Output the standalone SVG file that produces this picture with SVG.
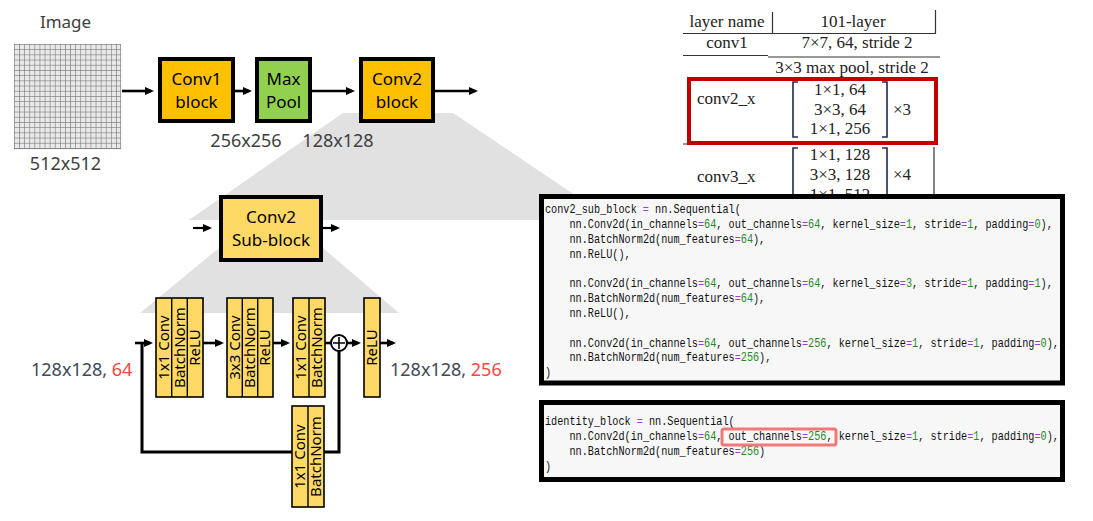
<svg xmlns="http://www.w3.org/2000/svg" width="1093" height="521" viewBox="0 0 1093 521">
<style>
.lbl{font-family:"Noto Sans","Liberation Sans",sans-serif;font-size:18px;fill:#404040}
.bt{font-family:"Noto Sans","Liberation Sans",sans-serif;font-size:17px;fill:#000;text-anchor:middle}
.rt{font-family:"Noto Sans","Liberation Sans",sans-serif;font-size:15px;fill:#000;text-anchor:middle}
.blk{stroke:#000;stroke-width:4}
.sb{fill:#FFD966;stroke:#000;stroke-width:1.6}
.dv{stroke:#000;stroke-width:1.4}
.ar{stroke:#000;stroke-width:2.6;fill:none}
.tb{font-family:"Liberation Serif","Times New Roman",serif;font-size:17px;fill:#222}
.tl{stroke:#333;stroke-width:1.2;fill:none}
.br{stroke:#1c2b4f;stroke-width:1.6;fill:none}
.code{font-family:"Liberation Mono","DejaVu Sans Mono",monospace;font-size:13px;fill:#111}
.p{fill:#a23bd6}
.n{fill:#1f8a1f}
.box{fill:#f7f7f7;stroke:#000;stroke-width:5}
.red{fill:#ff4444}
.gr{fill:#3f4959}
</style>
<defs>
<pattern id="grid" x="14" y="44" width="5.1" height="5.2" patternUnits="userSpaceOnUse">
<path d="M0.35 0V5.2M0 0.35H5.1" stroke="#7a7a7a" stroke-width="0.7"/>
</pattern>
<marker id="ah" viewBox="0 0 9 8" refX="6" refY="4" markerWidth="9" markerHeight="8" markerUnits="userSpaceOnUse" orient="auto">
<path d="M0 0L9 4L0 8z" fill="#000"/>
</marker>
</defs>
<rect width="1093" height="521" fill="#fff"/>

<g id="trapezoids">
<polygon points="343,113 453,113 612,220 189,220" fill="#e1e1e1"/>
<polygon points="219,248 323,248 399,313 140,313" fill="#e1e1e1"/>
</g>

<g id="image">
<text class="lbl" x="65.5" y="28" text-anchor="middle" style="font-size:17px">Image</text>
<rect x="14" y="44" width="107" height="105" fill="#e9e9e9"/>
<rect x="14" y="44" width="107" height="105" fill="url(#grid)"/>
<path d="M120.6 44V149M14 148.6H121" stroke="#7a7a7a" stroke-width="0.7"/>
<text class="lbl" x="65.5" y="170" text-anchor="middle">512x512</text>
</g>

<g id="connectors">
<line class="ar" x1="122" y1="91" x2="151" y2="91" marker-end="url(#ah)"/>
<line class="ar" x1="235" y1="91" x2="249" y2="91" marker-end="url(#ah)"/>
<line class="ar" x1="312" y1="91" x2="352" y2="91" marker-end="url(#ah)"/>
<line class="ar" x1="435" y1="91" x2="475" y2="91" marker-end="url(#ah)"/>
<line class="ar" x1="193" y1="228" x2="209" y2="228" marker-end="url(#ah)" style="stroke-width:2.2"/>
<line class="ar" x1="323" y1="228" x2="337" y2="228" marker-end="url(#ah)" style="stroke-width:2.2"/>
<line class="ar" x1="135" y1="343" x2="150" y2="343" marker-end="url(#ah)"/>
<path class="ar" d="M142 343V452H339V351" style="stroke-width:3"/>
<line class="ar" x1="203" y1="343" x2="221" y2="343" marker-end="url(#ah)"/>
<line class="ar" x1="273" y1="343" x2="287" y2="343" marker-end="url(#ah)"/>
<line class="ar" x1="325" y1="343" x2="331" y2="343"/>
<line class="ar" x1="347" y1="343" x2="358" y2="343" marker-end="url(#ah)"/>
<line class="ar" x1="380" y1="343" x2="393" y2="343" marker-end="url(#ah)"/>
</g>

<g id="conv1">
<rect class="blk" x="160" y="59" width="73" height="62" fill="#FFC000"/>
<text class="bt" x="196.5" y="85">Conv1</text>
<text class="bt" x="196.5" y="108">block</text>
</g>
<g id="maxpool">
<rect class="blk" x="257" y="59" width="53" height="62" fill="#92D050"/>
<text class="bt" x="283.5" y="85">Max</text>
<text class="bt" x="283.5" y="108">Pool</text>
</g>
<g id="conv2">
<rect class="blk" x="361" y="59" width="72" height="62" fill="#FFC000"/>
<text class="bt" x="397" y="85">Conv2</text>
<text class="bt" x="397" y="108">block</text>
</g>
<g id="sizes">
<text class="lbl" x="246" y="147" text-anchor="middle">256x256</text>
<text class="lbl" x="338" y="147" text-anchor="middle">128x128</text>
</g>

<g id="subblock">
<rect class="blk" x="221" y="197" width="100" height="63" fill="#FFD966"/>
<text class="bt" x="271" y="222.5">Conv2</text>
<text class="bt" x="271" y="245.5">Sub-block</text>
</g>

<g id="in-label">
<text class="lbl" x="31" y="375.5"><tspan class="gr">128x128, </tspan><tspan class="red">64</tspan></text>
</g>
<g id="out-label">
<text class="lbl" x="390" y="375.5"><tspan class="gr">128x128, </tspan><tspan class="red">256</tspan></text>
</g>

<g id="block1">
<rect class="sb" x="156" y="298" width="47" height="99"/>
<path class="dv" d="M171.7 298V397M187.3 298V397"/>
<text class="rt" transform="translate(164,347.5) rotate(-90)" y="5">1x1 Conv</text>
<text class="rt" transform="translate(179.5,347.5) rotate(-90)" y="5">BatchNorm</text>
<text class="rt" transform="translate(195,347.5) rotate(-90)" y="5">ReLU</text>
</g>
<g id="block2">
<rect class="sb" x="227" y="298" width="46" height="99"/>
<path class="dv" d="M242.3 298V397M257.7 298V397"/>
<text class="rt" transform="translate(234.7,347.5) rotate(-90)" y="5">3x3 Conv</text>
<text class="rt" transform="translate(250,347.5) rotate(-90)" y="5">BatchNorm</text>
<text class="rt" transform="translate(265.3,347.5) rotate(-90)" y="5">ReLU</text>
</g>
<g id="block3">
<rect class="sb" x="293" y="298" width="32" height="99"/>
<path class="dv" d="M309 298V397"/>
<text class="rt" transform="translate(301,347.5) rotate(-90)" y="5">1x1 Conv</text>
<text class="rt" transform="translate(317,347.5) rotate(-90)" y="5">BatchNorm</text>
</g>
<g id="add">
<circle cx="339" cy="343" r="8" fill="#fff" stroke="#000" stroke-width="2"/>
<path d="M339 337V349M333 343H345" stroke="#000" stroke-width="1.6"/>
</g>
<g id="relu">
<rect class="sb" x="364" y="298" width="16" height="99"/>
<text class="rt" transform="translate(372,347.5) rotate(-90)" y="5">ReLU</text>
</g>
<g id="shortcut">
<rect class="sb" x="292" y="406" width="32" height="101"/>
<path class="dv" d="M308 406V507"/>
<text class="rt" transform="translate(300,456.5) rotate(-90)" y="5">1x1 Conv</text>
<text class="rt" transform="translate(316,456.5) rotate(-90)" y="5">BatchNorm</text>
</g>

<g id="table">
<path class="tl" d="M683 33.5H936M772.5 12V33.5M935.5 10V33.5M683 55.5H768M768 57H940M683 144H936M934 147V200"/>
<text class="tb" x="727" y="27" text-anchor="middle">layer name</text>
<text class="tb" x="853" y="27" text-anchor="middle">101-layer</text>
<text class="tb" x="727" y="48" text-anchor="middle">conv1</text>
<text class="tb" x="857" y="48" text-anchor="middle">7×7, 64, stride 2</text>
<text class="tb" x="852" y="73" text-anchor="middle">3×3 max pool, stride 2</text>
<text class="tb" x="697" y="104">conv2_x</text>
<path class="br" d="M798 82H793V137H798M882 82H887V137H882"/>
<text class="tb" x="840" y="95" text-anchor="middle">1×1, 64</text>
<text class="tb" x="840" y="115" text-anchor="middle">3×3, 64</text>
<text class="tb" x="840" y="134" text-anchor="middle">1×1, 256</text>
<text class="tb" x="893" y="115">×3</text>
<text class="tb" x="697" y="182">conv3_x</text>
<path class="br" d="M798 148H793V200M882 148H887V200"/>
<text class="tb" x="840" y="160" text-anchor="middle">1×1, 128</text>
<text class="tb" x="840" y="180" text-anchor="middle">3×3, 128</text>
<text class="tb" x="840" y="200" text-anchor="middle">1×1, 512</text>
<text class="tb" x="893" y="180">×4</text>
<rect x="689" y="79" width="247" height="64" fill="none" stroke="#C00000" stroke-width="4"/>
</g>

<g id="code1">
<rect class="box" x="541.5" y="196.5" width="521" height="186.5"/>
<g transform="translate(545 0) scale(0.785 1)" class="code">
<text x="0" y="213.5">conv2_sub_block <tspan class="p">=</tspan> nn.Sequential(</text>
<text x="31.2" y="228.3">nn.Conv2d(in_channels<tspan class="p">=</tspan><tspan class="n">64</tspan>, out_channels<tspan class="p">=</tspan><tspan class="n">64</tspan>, kernel_size<tspan class="p">=</tspan><tspan class="n">1</tspan>, stride<tspan class="p">=</tspan><tspan class="n">1</tspan>, padding<tspan class="p">=</tspan><tspan class="n">0</tspan>),</text>
<text x="31.2" y="243.1">nn.BatchNorm2d(num_features<tspan class="p">=</tspan><tspan class="n">64</tspan>),</text>
<text x="31.2" y="257.9">nn.ReLU(),</text>
<text x="31.2" y="287.5">nn.Conv2d(in_channels<tspan class="p">=</tspan><tspan class="n">64</tspan>, out_channels<tspan class="p">=</tspan><tspan class="n">64</tspan>, kernel_size<tspan class="p">=</tspan><tspan class="n">3</tspan>, stride<tspan class="p">=</tspan><tspan class="n">1</tspan>, padding<tspan class="p">=</tspan><tspan class="n">1</tspan>),</text>
<text x="31.2" y="302.3">nn.BatchNorm2d(num_features<tspan class="p">=</tspan><tspan class="n">64</tspan>),</text>
<text x="31.2" y="317.1">nn.ReLU(),</text>
<text x="31.2" y="346.7">nn.Conv2d(in_channels<tspan class="p">=</tspan><tspan class="n">64</tspan>, out_channels<tspan class="p">=</tspan><tspan class="n">256</tspan>, kernel_size<tspan class="p">=</tspan><tspan class="n">1</tspan>, stride<tspan class="p">=</tspan><tspan class="n">1</tspan>, padding<tspan class="p">=</tspan><tspan class="n">0</tspan>),</text>
<text x="31.2" y="361.5">nn.BatchNorm2d(num_features<tspan class="p">=</tspan><tspan class="n">256</tspan>),</text>
<text x="0" y="376.3">)</text>
</g>
</g>

<g id="code2">
<rect class="box" x="541.5" y="402.5" width="521" height="77"/>
<g transform="translate(545 0) scale(0.785 1)" class="code">
<text x="0" y="425.5">identity_block <tspan class="p">=</tspan> nn.Sequential(</text>
<text x="31.2" y="440.3">nn.Conv2d(in_channels<tspan class="p">=</tspan><tspan class="n">64</tspan>, out_channels<tspan class="p">=</tspan><tspan class="n">256</tspan>, kernel_size<tspan class="p">=</tspan><tspan class="n">1</tspan>, stride<tspan class="p">=</tspan><tspan class="n">1</tspan>, padding<tspan class="p">=</tspan><tspan class="n">0</tspan>),</text>
<text x="31.2" y="455.1">nn.BatchNorm2d(num_features<tspan class="p">=</tspan><tspan class="n">256</tspan>)</text>
<text x="0" y="469.9">)</text>
</g>
<rect x="722" y="429" width="114" height="16" rx="2" fill="none" stroke="#f07878" stroke-width="3"/>
</g>
</svg>
